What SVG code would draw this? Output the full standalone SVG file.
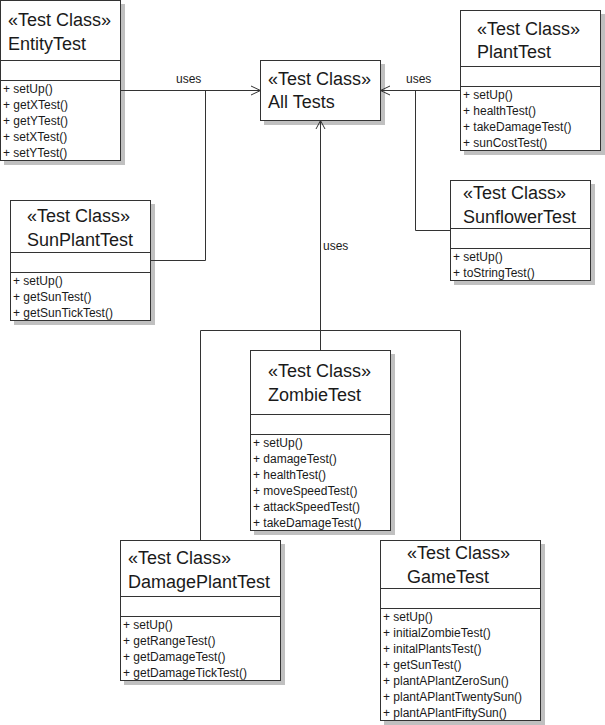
<svg xmlns="http://www.w3.org/2000/svg" width="605" height="725" viewBox="0 0 605 725">
<style>
.box{fill:#fff;stroke:#333;stroke-width:1}
.sh{fill:#c0c0c0}
.div{stroke:#333;stroke-width:1}
.t{font-family:"Liberation Sans",Arial,sans-serif;font-size:18px;fill:#1a1a1a}
.m{font-family:"Liberation Sans",Arial,sans-serif;font-size:12px;fill:#1a1a1a}
.c{fill:none;stroke:#333;stroke-width:1}
</style>
<rect width="605" height="725" fill="#fff"/>
<g id="EntityTest">
<rect class="sh" x="4" y="4" width="121" height="161"/>
<rect class="box" x="0.5" y="0.5" width="120" height="160"/>
<line class="div" x1="0.5" y1="60.5" x2="120.5" y2="60.5"/>
<line class="div" x1="0.5" y1="80.5" x2="120.5" y2="80.5"/>
<text class="t" x="8" y="26">«Test Class»</text>
<text class="t" x="8" y="50">EntityTest</text>
<text class="m" x="3" y="93">+ setUp()</text>
<text class="m" x="3" y="109">+ getXTest()</text>
<text class="m" x="3" y="125">+ getYTest()</text>
<text class="m" x="3" y="141">+ setXTest()</text>
<text class="m" x="3" y="157">+ setYTest()</text>
</g>
<g id="AllTests">
<rect class="sh" x="264" y="64" width="121" height="61"/>
<rect class="box" x="260.5" y="60.5" width="120" height="60"/>
<text class="t" x="268" y="85">«Test Class»</text>
<text class="t" x="268" y="108">All Tests</text>
</g>
<g id="PlantTest">
<rect class="sh" x="464" y="14" width="141" height="141"/>
<rect class="box" x="460.5" y="10.5" width="140" height="140"/>
<line class="div" x1="460.5" y1="66.5" x2="600.5" y2="66.5"/>
<line class="div" x1="460.5" y1="86.5" x2="600.5" y2="86.5"/>
<text class="t" x="477" y="35">«Test Class»</text>
<text class="t" x="477" y="58">PlantTest</text>
<text class="m" x="463" y="99">+ setUp()</text>
<text class="m" x="463" y="115">+ healthTest()</text>
<text class="m" x="463" y="131">+ takeDamageTest()</text>
<text class="m" x="463" y="147">+ sunCostTest()</text>
</g>
<g id="SunPlantTest">
<rect class="sh" x="14" y="204" width="141" height="121"/>
<rect class="box" x="10.5" y="200.5" width="140" height="120"/>
<line class="div" x1="10.5" y1="252.5" x2="150.5" y2="252.5"/>
<line class="div" x1="10.5" y1="272.5" x2="150.5" y2="272.5"/>
<text class="t" x="27" y="222">«Test Class»</text>
<text class="t" x="27" y="246">SunPlantTest</text>
<text class="m" x="13" y="285">+ setUp()</text>
<text class="m" x="13" y="301">+ getSunTest()</text>
<text class="m" x="13" y="317">+ getSunTickTest()</text>
</g>
<g id="SunflowerTest">
<rect class="sh" x="454" y="184" width="141" height="101"/>
<rect class="box" x="450.5" y="180.5" width="140" height="100"/>
<line class="div" x1="450.5" y1="228.5" x2="590.5" y2="228.5"/>
<line class="div" x1="450.5" y1="248.5" x2="590.5" y2="248.5"/>
<text class="t" x="463" y="199">«Test Class»</text>
<text class="t" x="463" y="223">SunflowerTest</text>
<text class="m" x="453" y="261">+ setUp()</text>
<text class="m" x="453" y="277">+ toStringTest()</text>
</g>
<g id="ZombieTest">
<rect class="sh" x="254" y="354" width="141" height="181"/>
<rect class="box" x="250.5" y="350.5" width="140" height="180"/>
<line class="div" x1="250.5" y1="414.5" x2="390.5" y2="414.5"/>
<line class="div" x1="250.5" y1="434.5" x2="390.5" y2="434.5"/>
<text class="t" x="268" y="377">«Test Class»</text>
<text class="t" x="268" y="401">ZombieTest</text>
<text class="m" x="253" y="447">+ setUp()</text>
<text class="m" x="253" y="463">+ damageTest()</text>
<text class="m" x="253" y="479">+ healthTest()</text>
<text class="m" x="253" y="495">+ moveSpeedTest()</text>
<text class="m" x="253" y="511">+ attackSpeedTest()</text>
<text class="m" x="253" y="527">+ takeDamageTest()</text>
</g>
<g id="DamagePlantTest">
<rect class="sh" x="124" y="544" width="161" height="141"/>
<rect class="box" x="120.5" y="540.5" width="160" height="140"/>
<line class="div" x1="120.5" y1="596.5" x2="280.5" y2="596.5"/>
<line class="div" x1="120.5" y1="616.5" x2="280.5" y2="616.5"/>
<text class="t" x="128" y="564">«Test Class»</text>
<text class="t" x="128" y="588">DamagePlantTest</text>
<text class="m" x="123" y="629">+ setUp()</text>
<text class="m" x="123" y="645">+ getRangeTest()</text>
<text class="m" x="123" y="661">+ getDamageTest()</text>
<text class="m" x="123" y="677">+ getDamageTickTest()</text>
</g>
<g id="GameTest">
<rect class="sh" x="384" y="544" width="161" height="181"/>
<rect class="box" x="380.5" y="540.5" width="160" height="180"/>
<line class="div" x1="380.5" y1="588.5" x2="540.5" y2="588.5"/>
<line class="div" x1="380.5" y1="608.5" x2="540.5" y2="608.5"/>
<text class="t" x="407" y="559">«Test Class»</text>
<text class="t" x="407" y="583">GameTest</text>
<text class="m" x="383" y="621">+ setUp()</text>
<text class="m" x="383" y="637">+ initialZombieTest()</text>
<text class="m" x="383" y="653">+ initalPlantsTest()</text>
<text class="m" x="383" y="669">+ getSunTest()</text>
<text class="m" x="383" y="685">+ plantAPlantZeroSun()</text>
<text class="m" x="383" y="701">+ plantAPlantTwentySun()</text>
<text class="m" x="383" y="717">+ plantAPlantFiftySun()</text>
</g>
<g id="connectors">
<path class="c" d="M120.5,90.5 H260.5 M205.5,90.5 V260.5 H150.5"/>
<path class="c" d="M251,86 L260.5,90.5 L251,95"/>
<path class="c" d="M460.5,90.5 H380.5 M415.5,90.5 V230.5 H450.5"/>
<path class="c" d="M390,86 L380.5,90.5 L390,95"/>
<path class="c" d="M320.5,350.5 V120.5 M200.5,540.5 V330.5 H460.5 V540.5"/>
<path class="c" d="M316,129 L320.5,120.5 L325,129"/>
<text class="m" x="176" y="83">uses</text>
<text class="m" x="406" y="83">uses</text>
<text class="m" x="323" y="250">uses</text>
</g>
</svg>
